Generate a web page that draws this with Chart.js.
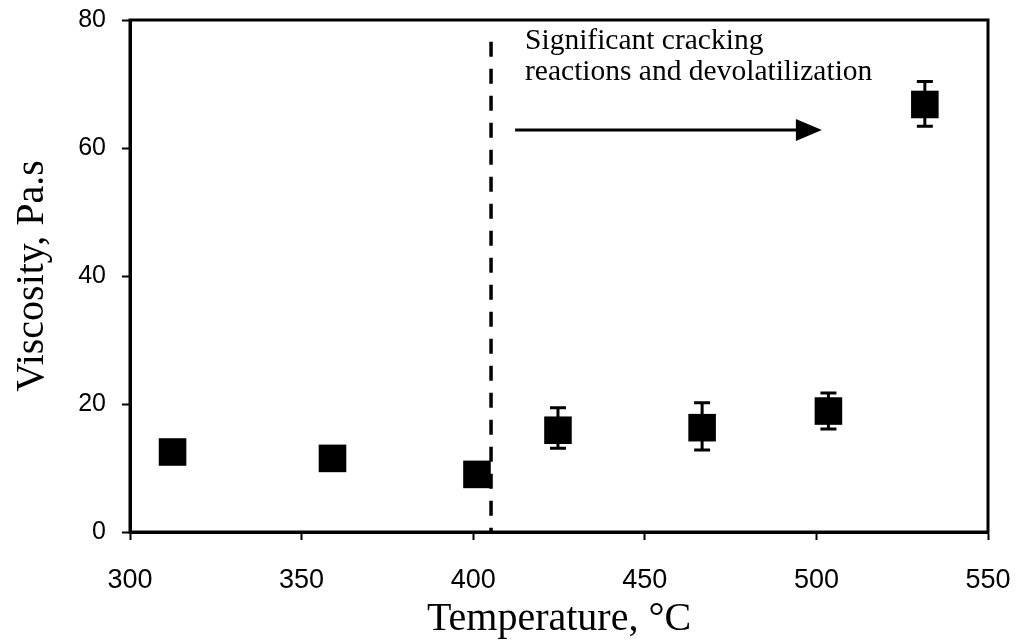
<!DOCTYPE html>
<html>
<head>
<meta charset="utf-8">
<title>Viscosity vs Temperature</title>
<script src="https://cdn.jsdelivr.net/npm/chart.js@4.4.1/dist/chart.umd.min.js"></script>
<style>
  html, body { margin: 0; padding: 0; background: #fff; }
  #wrap { width: 1016px; height: 644px; }
</style>
</head>
<body>
<div id="wrap"><canvas id="myChart" width="1016" height="644"></canvas></div>
<script>
// data
var temperature = [312.4, 359.0, 401.1, 424.7, 466.7, 503.5, 531.6];
var viscosity = [12.5, 11.5, 9.0, 15.9, 16.3, 18.9, 66.8];
var errUpper = [null, null, null, 19.4, 20.2, 21.7, 70.4];
var errLower = [null, null, null, 13.1, 12.8, 16.1, 63.4];

var xTicks = [300, 350, 400, 450, 500, 550];
var yTicks = [0, 20, 40, 60, 80];

// dashed divider and note
var dividerX = 405.2;
var dividerTop = 76.6;
var arrowFrom = [412.2, 62.8];
var arrowTo = [501.6, 62.8];
var noteLines = ['Significant cracking', 'reactions and devolatilization'];
var notePos = [415.1, 75.5];

var points = temperature.map(function(t, i) {
  return { x: t, y: viscosity[i] };
});

// keep the plot box where the reference has it
function noPad(scale) {
  scale.paddingTop = 0;
  scale.paddingBottom = 0;
  scale.paddingLeft = 0;
  scale.paddingRight = 0;
}

const extrasPlugin = {
  id: 'extras',
  afterDatasetsDraw: function(chart) {
    var ctx = chart.ctx;
    var xs = chart.scales.x;
    var ys = chart.scales.y;
    var area = chart.chartArea;

    ctx.save();
    ctx.strokeStyle = '#000';
    ctx.fillStyle = '#000';

    // error bars
    ctx.lineWidth = 3;
    for (var i = 0; i < temperature.length; i++) {
      if (errUpper[i] == null) continue;
      var px = xs.getPixelForValue(temperature[i]);
      var top = ys.getPixelForValue(errUpper[i]);
      var bot = ys.getPixelForValue(errLower[i]);
      ctx.beginPath();
      ctx.moveTo(px, top); ctx.lineTo(px, bot);
      ctx.moveTo(px - 8, top); ctx.lineTo(px + 8, top);
      ctx.moveTo(px - 8, bot); ctx.lineTo(px + 8, bot);
      ctx.stroke();
    }

    // frame round the plot
    ctx.lineWidth = 3;
    ctx.strokeRect(area.left, area.top, area.right - area.left, area.bottom - area.top);

    // dashed divider
    var dx = xs.getPixelForValue(dividerX);
    ctx.lineWidth = 3.5;
    ctx.setLineDash([15, 12]);
    ctx.beginPath();
    ctx.moveTo(dx, ys.getPixelForValue(dividerTop));
    ctx.lineTo(dx, ys.getPixelForValue(0));
    ctx.stroke();
    ctx.setLineDash([]);

    // arrow
    var ax1 = xs.getPixelForValue(arrowFrom[0]);
    var ay = ys.getPixelForValue(arrowFrom[1]);
    var ax2 = xs.getPixelForValue(arrowTo[0]);
    ctx.lineWidth = 3;
    ctx.beginPath();
    ctx.moveTo(ax1, ay);
    ctx.lineTo(ax2 - 20, ay);
    ctx.stroke();
    ctx.beginPath();
    ctx.moveTo(ax2, ay);
    ctx.lineTo(ax2 - 26, ay - 11);
    ctx.lineTo(ax2 - 26, ay + 11);
    ctx.closePath();
    ctx.fill();

    // note text
    ctx.font = '29.5px "Liberation Serif", "Times New Roman", serif';
    ctx.textAlign = 'left';
    ctx.textBaseline = 'alphabetic';
    var nx = xs.getPixelForValue(notePos[0]);
    var ny = ys.getPixelForValue(notePos[1]);
    ctx.fillText(noteLines[0], nx, ny);
    ctx.fillText(noteLines[1], nx, ny + 31);

    ctx.restore();
  }
};

const ctx = document.getElementById('myChart').getContext('2d');
const myChart = new Chart(ctx, {
  type: 'scatter',
  data: {
    datasets: [{
      label: 'Viscosity',
      data: points,
      pointStyle: 'rect',
      pointRadius: 19.5,
      pointHoverRadius: 19.5,
      backgroundColor: '#000',
      borderColor: '#000',
      borderWidth: 0
    }]
  },
  options: {
    responsive: false,
    animation: false,
    events: [],
    layout: {
      padding: { top: 20, right: 28, left: 0, bottom: 0 }
    },
    plugins: {
      legend: { display: false },
      tooltip: { enabled: false }
    },
    scales: {
      x: {
        type: 'linear',
        min: 300,
        max: 550,
        afterBuildTicks: function(scale) {
          scale.ticks = xTicks.map(function(v) { return { value: v }; });
        },
        afterFit: function(scale) { scale.height = 112; noPad(scale); },
        grid: { drawOnChartArea: false, drawTicks: true, tickLength: 8, color: '#000', tickWidth: 2 },
        border: { display: true, color: '#000', width: 3 },
        ticks: {
          color: '#000',
          padding: 24,
          maxRotation: 0,
          font: { family: '"Liberation Sans", Arial, sans-serif', size: 27 }
        },
        title: {
          display: true,
          text: 'Temperature, °C',
          color: '#000',
          padding: { top: 0, bottom: 1 },
          font: { family: '"Liberation Serif", "Times New Roman", serif', size: 40 }
        }
      },
      y: {
        type: 'linear',
        min: 0,
        max: 80,
        afterBuildTicks: function(scale) {
          scale.ticks = yTicks.map(function(v) { return { value: v }; });
        },
        afterFit: function(scale) { scale.width = 130; noPad(scale); },
        grid: { drawOnChartArea: false, drawTicks: true, tickLength: 8, color: '#000', tickWidth: 2 },
        border: { display: true, color: '#000', width: 3 },
        ticks: {
          color: '#000',
          padding: 16,
          font: { family: '"Liberation Sans", Arial, sans-serif', size: 25 }
        },
        title: {
          display: true,
          text: 'Viscosity, Pa.s',
          color: '#000',
          padding: { top: 8, bottom: 0 },
          font: { family: '"Liberation Serif", "Times New Roman", serif', size: 40 }
        }
      }
    }
  },
  plugins: [extrasPlugin]
});
</script>
</body>
</html>
